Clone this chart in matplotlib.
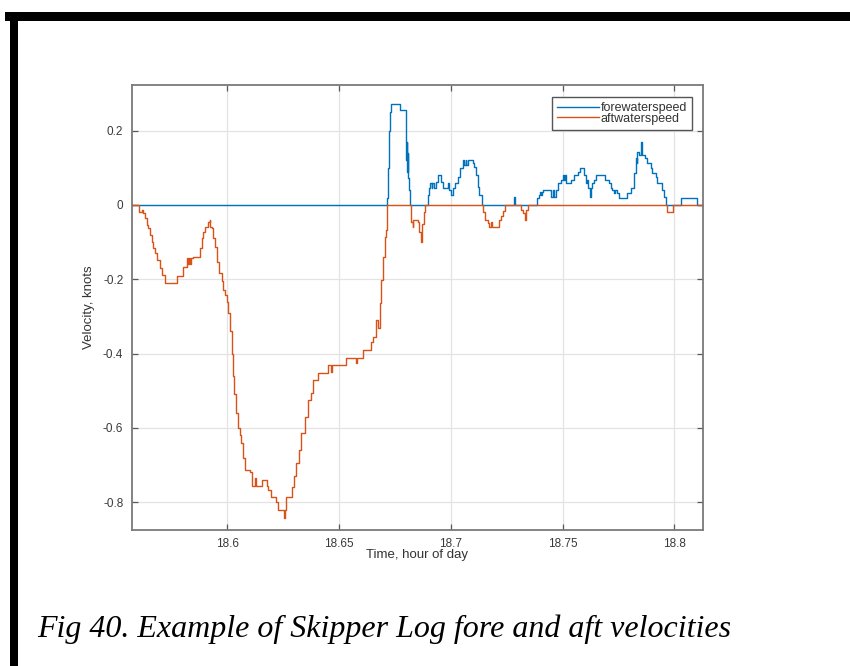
import matplotlib
matplotlib.use("Agg")
import matplotlib.pyplot as plt
from matplotlib.lines import Line2D
from matplotlib.patches import Rectangle

# ---- data (time in hours of day, velocity in knots) ----
aft_time = [18.5573, 18.5607, 18.5618, 18.5625, 18.5633, 18.5640, 18.5647, 18.5655,
            18.5662, 18.5670, 18.5677, 18.5685, 18.5700, 18.5707, 18.5722, 18.5774,
            18.5804, 18.5819, 18.5825, 18.5829, 18.5833, 18.5838, 18.5848, 18.5878,
            18.5886, 18.5893, 18.5900, 18.5915, 18.5921, 18.5925, 18.5930, 18.5938,
            18.5945, 18.5955, 18.5964, 18.5975, 18.5982, 18.5990, 18.5997, 18.6004,
            18.6012, 18.6020, 18.6025, 18.6030, 18.6039, 18.6049, 18.6057, 18.6064,
            18.6070, 18.6079, 18.6101, 18.6112, 18.6126, 18.6130, 18.6155, 18.6176,
            18.6184, 18.6195, 18.6217, 18.6228, 18.6252, 18.6257, 18.6262, 18.6288,
            18.6298, 18.6310, 18.6320, 18.6332, 18.6347, 18.6362, 18.6377, 18.6384,
            18.6406, 18.6451, 18.6465, 18.6470, 18.6530, 18.6576, 18.6580, 18.6607,
            18.6645, 18.6652, 18.6667, 18.6675, 18.6682, 18.6689, 18.6696, 18.6704,
            18.6712, 18.6716, 18.6821, 18.6830, 18.6833, 18.6853, 18.6860, 18.6867,
            18.6871, 18.6879, 18.6883, 18.7143, 18.7155, 18.7165, 18.7173, 18.7182,
            18.7186, 18.7217, 18.7226, 18.7235, 18.7244, 18.7314, 18.7325, 18.7331,
            18.7336, 18.7345, 18.7969, 18.7994, 18.8124]
aft_speed = [0.0, -0.020, -0.013, -0.022, -0.036, -0.054, -0.063, -0.081,
             -0.099, -0.117, -0.130, -0.148, -0.170, -0.188, -0.210, -0.190,
             -0.166, -0.144, -0.160, -0.144, -0.160, -0.144, -0.139, -0.117,
             -0.090, -0.072, -0.058, -0.045, -0.040, -0.058, -0.063, -0.090,
             -0.112, -0.153, -0.184, -0.206, -0.229, -0.242, -0.260, -0.290,
             -0.340, -0.400, -0.460, -0.510, -0.560, -0.600, -0.620, -0.640,
             -0.680, -0.713, -0.720, -0.757, -0.735, -0.757, -0.740, -0.757,
             -0.767, -0.786, -0.800, -0.820, -0.843, -0.820, -0.786, -0.760,
             -0.730, -0.695, -0.660, -0.614, -0.570, -0.525, -0.506, -0.470,
             -0.451, -0.430, -0.450, -0.430, -0.412, -0.425, -0.412, -0.390,
             -0.370, -0.355, -0.310, -0.330, -0.264, -0.202, -0.140, -0.086,
             -0.067, 0.0, -0.045, -0.058, -0.040, -0.045, -0.072, -0.099,
             -0.050, -0.020, 0.0, -0.018, -0.040, -0.049, -0.058, -0.045,
             -0.058, -0.040, -0.030, -0.015, 0.0, -0.013, -0.022, -0.040,
             -0.013, 0.0, -0.018, 0.0, 0.0]

fore_time = [18.5573, 18.6714, 18.6720, 18.6724, 18.6729, 18.6734, 18.6775, 18.6798,
             18.6800, 18.6802, 18.6804, 18.6807, 18.6809, 18.6813, 18.6819, 18.6900,
             18.6903, 18.6908, 18.6914, 18.6918, 18.6923, 18.6932, 18.6942, 18.6957,
             18.6964, 18.6987, 18.6991, 18.7002, 18.7008, 18.7021, 18.7031, 18.7042,
             18.7054, 18.7061, 18.7066, 18.7070, 18.7075, 18.7098, 18.7106, 18.7113,
             18.7121, 18.7128, 18.7140, 18.7284, 18.7289, 18.7384, 18.7393, 18.7399,
             18.7403, 18.7406, 18.7411, 18.7448, 18.7455, 18.7463, 18.7471, 18.7478,
             18.7493, 18.7500, 18.7508, 18.7512, 18.7517, 18.7538, 18.7552, 18.7567,
             18.7579, 18.7597, 18.7604, 18.7608, 18.7612, 18.7621, 18.7626, 18.7633,
             18.7642, 18.7649, 18.7691, 18.7708, 18.7716, 18.7723, 18.7731, 18.7735,
             18.7744, 18.7753, 18.7790, 18.7805, 18.7820, 18.7828, 18.7831, 18.7835,
             18.7842, 18.7849, 18.7853, 18.7857, 18.7869, 18.7879, 18.7895, 18.7902,
             18.7917, 18.7924, 18.7946, 18.7954, 18.7962, 18.8029, 18.8103, 18.8124]
fore_speed = [0.0, 0.020, 0.100, 0.200, 0.250, 0.271, 0.256, 0.200,
              0.120, 0.170, 0.090, 0.140, 0.072, 0.040, 0.0, 0.027,
              0.045, 0.058, 0.045, 0.058, 0.045, 0.063, 0.081, 0.063,
              0.045, 0.058, 0.040, 0.027, 0.045, 0.058, 0.076, 0.099,
              0.121, 0.108, 0.121, 0.108, 0.121, 0.112, 0.103, 0.081,
              0.049, 0.027, 0.0, 0.022, 0.0, 0.018, 0.027, 0.036,
              0.027, 0.036, 0.040, 0.022, 0.040, 0.022, 0.040, 0.058,
              0.067, 0.081, 0.067, 0.081, 0.058, 0.067, 0.081, 0.090,
              0.099, 0.081, 0.058, 0.067, 0.045, 0.022, 0.045, 0.058,
              0.067, 0.081, 0.067, 0.058, 0.045, 0.040, 0.031, 0.040,
              0.031, 0.018, 0.031, 0.045, 0.085, 0.126, 0.112, 0.143,
              0.135, 0.170, 0.150, 0.135, 0.126, 0.112, 0.099, 0.085,
              0.076, 0.058, 0.040, 0.022, 0.0, 0.018, 0.0, 0.0]

x_ticks = [18.6, 18.65, 18.7, 18.75, 18.8]
x_tick_labels = ["18.6", "18.65", "18.7", "18.75", "18.8"]
y_ticks = [-0.8, -0.6, -0.4, -0.2, 0.0, 0.2]
y_tick_labels = ["-0.8", "-0.6", "-0.4", "-0.2", "0", "0.2"]
series_names = ["forewaterspeed", "aftwaterspeed"]
caption = "Fig 40. Example of Skipper Log fore and aft velocities"

# ---- styling ----
W, H = 850, 666
fig = plt.figure(figsize=(W / 100, H / 100), dpi=100)
fig.patch.set_facecolor("white")
sans = ["Liberation Sans", "DejaVu Sans"]

# black frame (top and left bars)
fig.patches.append(Rectangle((5 / W, 1 - 21 / H), 1, 9 / H, transform=fig.transFigure,
                             facecolor="black", edgecolor="none"))
fig.patches.append(Rectangle((10 / W, 0), 8 / W, 1 - 13 / H, transform=fig.transFigure,
                             facecolor="black", edgecolor="none"))

ax = fig.add_axes([131.7 / W, 1 - 530 / H, (703 - 131.7) / W, (530 - 85) / H])
blue = "#0072BD"
orange = "#D95319"
ax.plot(fore_time, fore_speed, drawstyle="steps-post", color=blue, lw=1.0, zorder=3)
ax.plot(aft_time, aft_speed, drawstyle="steps-post", color=orange, lw=1.0, zorder=3)

ax.set_xlim(18.5573, 18.8128)
ax.set_ylim(-0.875, 0.323)
ax.set_xticks(x_ticks)
ax.set_xticklabels(x_tick_labels)
ax.set_yticks(y_ticks)
ax.set_yticklabels(y_tick_labels)
ax.grid(True, color="#e3e3e3", lw=0.9, zorder=0)
ax.set_axisbelow(True)
for s in ax.spines.values():
    s.set_color("#7a7a7a")
    s.set_linewidth(1.3)
ax.tick_params(direction="in", length=4, width=0.9, color="#5a5a5a",
               top=True, right=True, labelsize=8.5, labelcolor="#3a3a3a", pad=6)
for lbl in ax.get_xticklabels() + ax.get_yticklabels():
    lbl.set_family(sans)
ax.set_xlabel("Time, hour of day", fontsize=9.5, family=sans, color="#333333", labelpad=-1)
ax.set_ylabel("Velocity, knots", fontsize=9.5, family=sans, color="#333333", labelpad=6)

handles = [Line2D([], [], color=blue, lw=1.0), Line2D([], [], color=orange, lw=1.0)]
leg = ax.legend(handles, series_names, loc="upper right",
                bbox_to_anchor=((692 - 131.7) / (703 - 131.7), 1 - (97 - 85) / (530 - 85)),
                borderaxespad=0, fancybox=False, framealpha=1, edgecolor="#555555",
                prop={"family": sans, "size": 9}, handlelength=3.4, handletextpad=0.1,
                labelspacing=-0.1, borderpad=0.4)
leg.get_frame().set_linewidth(1.0)
for t in leg.get_texts():
    t.set_color("#333333")

fig.text(37 / W, 1 - 637 / H, caption, fontsize=23, style="italic",
         family=["Liberation Serif", "DejaVu Serif"], color="black", ha="left", va="baseline")

fig.savefig("out.png", dpi=100, facecolor="white")
